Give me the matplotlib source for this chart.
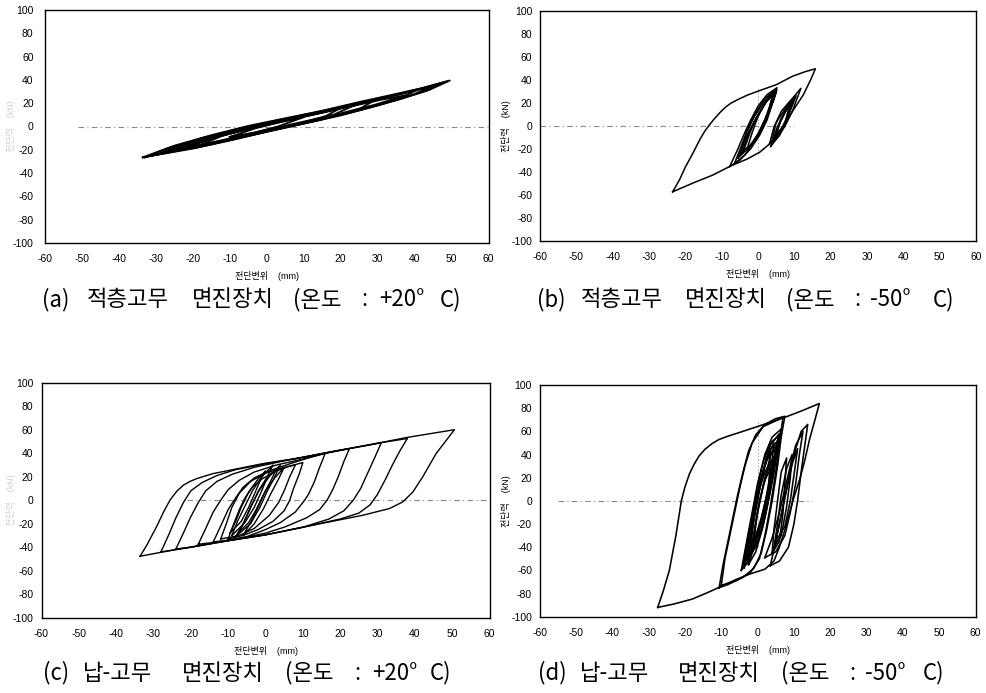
import matplotlib.pyplot as plt
import numpy as np

plt.rcParams['font.family'] = ['Liberation Sans', 'Noto Sans CJK KR']
plt.rcParams['axes.unicode_minus'] = False

# ---- data (x: mm, y: kN) ----
x_ticks = list(range(-60, 61, 10))
y_ticks = list(range(-100, 101, 20))

captions = [['(a)', '적층고무', '면진장치', '(온도', ':', '+20°', 'C)'],
            ['(b)', '적층고무', '면진장치', '(온도', ':', '-50°', 'C)'],
            ['(c)', '납-고무', '면진장치', '(온도', ':', '+20°', 'C)'],
            ['(d)', '납-고무', '면진장치', '(온도', ':', '-50°', 'C)']]
x_label = '전단변위    (mm)'
y_label = '전단력    (kN)'

# (a) laminated rubber, +20C
a1 = [(-33.5, -26.5), (-25, -21.5), (-15, -15), (-5, -7.5), (5, -0.5), (15, 6.5), (25, 14), (35, 22.5),
      (43, 30.5), (49.5, 39.5), (42, 33), (35, 28), (25, 21), (15, 13.5), (5, 7), (-5, 0.5), (-15, -7.5),
      (-25, -16.5), (-33.5, -26.5)]
a2 = [(-30, -24.5), (-20, -19), (-10, -12), (0, -4.5), (10, 2.5), (20, 9.5), (30, 18), (36, 24), (41, 32),
      (35, 27), (25, 20), (15, 12.5), (5, 6), (-5, -0.5), (-15, -8.5), (-25, -18), (-30, -24.5)]
a3 = [(-25, -20.5), (-15, -15), (-5, -8), (5, -1), (15, 6), (25, 15), (30, 24), (25, 19.5), (15, 12),
      (5, 5.5), (-5, -1.5), (-15, -10), (-25, -20.5)]
a4 = [(-18, -16), (-10, -11), (0, -3.5), (10, 3.5), (16, 9), (20, 16), (15, 12), (5, 5), (-5, -2),
      (-12, -8), (-18, -16)]
a5 = [(-10, -9), (-3, -5), (3, 0), (10, 8), (4, 4), (-3, -1.5), (-10, -9)]
a6 = [(-28, -22.5), (-18, -17.5), (-8, -10.5), (2, -3), (12, 4), (22, 11.5), (32, 20), (40, 28), (46, 36),
      (40, 30.5), (30, 23), (20, 16), (10, 9.5), (0, 3), (-10, -4.5), (-20, -12.5), (-28, -22.5)]
a7 = [(-33, -26.5), (-24, -20), (-14, -13.5), (-4, -6), (6, 0.5), (16, 7.5), (26, 15), (36, 23.5),
      (44, 31.5), (49, 39), (41, 32), (33, 26), (23, 19), (13, 12), (3, 5.5), (-7, -1.5), (-17, -9.5),
      (-27, -19), (-33, -26.5)]
a8 = [(-22, -18.5), (-12, -12.5), (-2, -5), (8, 2), (18, 10), (25, 20), (17, 13.5), (7, 6.5), (-3, -0.5),
      (-13, -8.5), (-22, -18.5)]
a9 = [(-31, -25), (-21, -18), (-11, -11), (-1, -3.5), (9, 3.5), (19, 10.5), (29, 18.5), (38, 27),
      (31, 23), (21, 16), (11, 9), (1, 2), (-9, -5.5), (-19, -13.5), (-31, -25)]
loops_a = [a1, a2, a3, a4, a5, a6, a7, a8, a9]

# (b) laminated rubber, -50C
b1 = [(-23.5, -57.5), (-18, -50), (-12.5, -43), (-7.5, -35), (-3, -29), (0.5, -23), (3.5, -15), (6, -5),
      (8, 5), (10, 15), (12.5, 27), (14.5, 40), (15.8, 49.5), (13, 47), (9.5, 43), (5, 35.6), (0.5, 30.6),
      (-3, 26.5), (-5.5, 22.8), (-7.5, 19.5), (-9, 16), (-10.3, 12), (-11.8, 6.8), (-13.3, 1),
      (-14.6, -4.5), (-16, -12), (-17.9, -23.8), (-20, -36), (-21.6, -47), (-23.5, -57.5)]
b2 = [(-7.8, -35.5), (-5, -30), (-2, -20), (0.5, -8), (2.5, 5), (4, 20), (5.2, 33), (2.5, 27), (0, 17),
      (-2, 5), (-3.5, -5), (-5.5, -20), (-7.8, -35.5)]
b3 = [(-6.5, -33), (-3.5, -25), (-1, -13), (1.5, 0), (3.5, 17), (4.8, 31), (2, 24), (-0.5, 12), (-2.5, 0),
      (-4.5, -17), (-6.5, -33)]
b4 = [(-5, -26), (-2, -17), (0.5, -5), (2.5, 10), (4.5, 30), (1.5, 20), (-1, 8), (-3, -5), (-5, -26)]
b5 = [(-3, -20), (0, -10), (2, 3), (3.5, 17), (4.2, 27), (2, 20), (0, 8), (-1.5, -5), (-3, -20)]
b6 = [(-4, -22), (-1, -14), (1, -2), (3, 12), (5, 29), (3, 24), (0.5, 12), (-1.5, 0), (-4, -22)]
b7 = [(3.2, -15.5), (5.5, -10), (7.5, 0), (9.5, 13), (11.8, 32.5), (9, 22), (6.5, 10), (4.5, 0), (3.2, -15.5)]
b8 = [(3.5, -18), (6, -8), (7.5, 3), (9, 22), (6.5, 13), (5, 3), (3.5, -18)]
b9 = [(4.5, -12), (6.5, -4), (8, 6), (9.5, 20), (7.5, 12), (6, 2), (4.5, -12)]
b10 = [(5, -8), (7, 0), (8.5, 10), (10.5, 26), (8, 15), (6.2, 4), (5, -8)]
b11 = [(-5.5, -28), (-2.5, -19), (0, -7), (2, 6), (3.2, 16), (4, 27), (1.8, 19), (-0.5, 7), (-2.5, -5),
       (-4, -15), (-5.5, -28)]
b12 = [(-4.5, -24), (-1.5, -15), (1, -3), (3, 11), (4.3, 22), (5.2, 31), (3, 25), (0.8, 13), (-1.2, 1),
       (-3, -10), (-4.5, -24)]
b13 = [(4, -14), (6, -6), (7.5, 4), (9, 16), (10, 24), (8, 17), (6.5, 7), (5.2, -2), (4, -14)]
loops_b = [b1, b2, b3, b4, b5, b6, b7, b8, b9, b10, b11, b12, b13]

# (c) lead-rubber, +20C
c1 = [(-33.6, -47.7), (-31.8, -38.3), (-29.2, -22.7), (-27.3, -10), (-25.6, 0), (-23.8, 7.5), (-22, 12.8),
      (-20.2, 16), (-18.4, 18.4), (-14, 22.7), (-9.5, 25.5), (-0.6, 31.2), (8.3, 35.5), (17.2, 41.1),
      (26.1, 46), (37.7, 53.3), (50.6, 60), (45.7, 39.7), (42.1, 19.8), (39.5, 7.1), (36.8, -1.4),
      (33.2, -7.1), (26.1, -12.8), (17.2, -18.4), (8.3, -24.1), (-0.6, -29.8), (-9.5, -34), (-18.4, -39),
      (-27.4, -44), (-33.6, -47.7)]
c2 = [(-28, -44), (-26, -30), (-24, -15), (-22, -2), (-20, 8), (-17, 15), (-13, 21), (-8, 26), (0, 31),
      (10, 36.5), (20, 42.5), (30, 48.5), (38, 52.5), (36, 42), (34, 30), (32, 17), (30, 5), (28, -4),
      (25, -11), (20, -16), (10, -23), (0, -29.5), (-10, -34.5), (-20, -40), (-28, -44)]
c3 = [(-24, -41.5), (-22, -28), (-20, -14), (-18, -2), (-16, 8), (-13, 16), (-9, 22), (-3, 28), (5, 33.5),
      (15, 39.5), (25, 45.5), (31, 48.8), (29.5, 38), (27.5, 24), (25.5, 10), (23.5, 0), (21, -9), (17, -16),
      (10, -23), (0, -29.5), (-10, -34.5), (-20, -40), (-24, -41.5)]
c4 = [(-18, -37.5), (-16, -24), (-14, -10), (-12, 0), (-10, 9), (-7, 17), (-3, 24), (3, 30), (10, 35),
      (17, 40.5), (22.5, 44), (21, 33), (19.5, 20), (18, 9), (16.5, 0), (14.5, -8), (11, -15), (5, -23),
      (0, -28), (-10, -34.5), (-18, -37.5)]
c5 = [(-14, -35.5), (-12, -22), (-10, -8), (-8, 2), (-6, 11), (-3, 19), (1, 25), (7, 31.5), (12, 36.5),
      (16, 40), (14.5, 28), (13, 15), (11.5, 5), (10.5, 0), (8, -10), (4, -19), (0, -25), (-5, -31),
      (-10, -34), (-14, -35.5)]
c6 = [(-10, -33), (-8.5, -20), (-7, -8), (-5.5, 2), (-3.5, 11), (-1, 18), (3, 25), (7, 29.5), (10, 32),
      (9, 22), (7.5, 10), (6.5, 0), (5, -9), (2, -18), (-2, -25), (-6, -30), (-10, -33)]
c7 = [(-9, -30), (-7.5, -18), (-5.5, -5), (-3.5, 8), (-1, 20), (2, 30), (0.5, 20), (-1, 8), (-3, -6),
      (-5.5, -19), (-9, -30)]
c8 = [(-8, -31), (-6, -20), (-4, -6), (-2, 7), (1, 20), (4, 30), (2.5, 20), (0.5, 8), (-1.5, -6),
      (-4, -20), (-8, -31)]
c9 = [(-7, -27), (-5.5, -17), (-3.5, -3), (-1.5, 10), (0.5, 20), (3, 27), (1.5, 17), (-0.5, 5),
      (-2.5, -8), (-4.5, -19), (-7, -27)]
c10 = [(-9.5, -28), (-8, -18), (-6.5, -6), (-4.5, 7), (-2, 18), (0, 25), (-1.5, 16), (-3, 5), (-4.5, -6),
       (-6.5, -18), (-9.5, -28)]
c11 = [(-6, -30), (-4, -19), (-2, -6), (0, 8), (2.5, 19), (5, 28), (3.5, 18), (1.5, 6), (-0.5, -7),
       (-3, -20), (-6, -30)]
c12 = [(-12, -33), (-10.5, -20), (-9, -6), (-7, 6), (-4, 16), (0, 23), (5, 28), (8, 30), (6.5, 20),
       (5, 8), (3.5, -2), (1, -13), (-3, -24), (-7, -30), (-12, -33)]
loops_c = [c1, c2, c3, c4, c5, c6, c7, c8, c9, c10, c11, c12]

# (d) lead-rubber, -50C
d1 = [(-27.5, -92), (-26, -78), (-24.3, -60), (-22.5, -30), (-21, 0), (-20, 12), (-18.8, 23),
      (-17.5, 31.5), (-16.1, 38.8), (-14.5, 44.5), (-12.5, 49.5), (-10.6, 53), (-8, 56), (-5, 59),
      (0.5, 64.7), (7, 71.5), (12, 77.5), (17, 84), (15.8, 70), (14.3, 53), (13, 35), (11.6, 18.7), (10, 3),
      (8.8, -10), (7.5, -25), (6, -40), (4.5, -52), (2, -59), (-2, -63), (-6, -68), (-10.6, -74.7),
      (-14, -79.5), (-18, -84.8), (-23, -89), (-27.5, -92)]
d2 = [(-10.6, -75), (-8, -72), (-4, -66), (-1, -58), (1, -45), (2.5, -25), (4, 0), (5.5, 30), (6.5, 55),
      (7.5, 73), (5, 71), (2, 66), (-0.5, 57), (-2.5, 43), (-4, 25), (-5.5, 5), (-7.5, -25), (-9.5, -55),
      (-10.6, -75)]
d3 = [(-10, -73), (-6, -69), (-2, -62), (0.5, -50), (2, -30), (3.5, -5), (5, 25), (6, 50), (7, 72),
      (1.5, 64), (-1.5, 50), (-3.5, 30), (-5, 10), (-7, -20), (-9, -50), (-10, -73)]
d4 = [(-4.5, -60), (-2, -50), (0, -30), (2, -5), (4, 25), (5.5, 48), (6.5, 62), (4, 55), (2, 40), (0, 15),
      (-1.5, -10), (-3, -35), (-4.5, -60)]
d5 = [(-3.5, -52), (-1.5, -42), (0.5, -22), (2.5, 3), (4, 28), (5.5, 52), (3, 42), (1, 20), (-0.5, -5),
      (-2, -28), (-3.5, -52)]
d6 = [(-3, -45), (-1, -35), (1, -15), (2.5, 5), (4, 25), (5, 45), (2.5, 35), (0.5, 15), (-1, -5),
      (-2, -25), (-3, -45)]
d7 = [(-2, -40), (0, -30), (1.5, -12), (3, 8), (4.5, 38), (2, 25), (0, 5), (-1, -15), (-2, -40)]
d8 = [(-4, -55), (-1.5, -45), (0.5, -25), (2.5, 0), (4.5, 30), (6, 58), (3.5, 48), (1.5, 25), (-0.5, 0),
      (-2.5, -28), (-4, -55)]
d9 = [(-1, -35), (1, -25), (2.5, -5), (3.5, 12), (4, 30), (2, 18), (0.5, 0), (-0.5, -18), (-1, -35)]
d10 = [(-2.5, -48), (-0.5, -40), (1.5, -20), (3, 2), (3.5, 44), (1.5, 25), (0, 0), (-1.5, -25), (-2.5, -48)]
d11 = [(3.5, -56), (6, -52), (8.5, -40), (10, -20), (11, 0), (12, 25), (13, 48), (13.8, 66), (12, 60),
       (10.5, 45), (9, 25), (7.5, 3), (6, -20), (4.5, -42), (3.5, -56)]
d12 = [(2, -49), (5, -44), (7.5, -30), (9, -10), (10.5, 15), (11.5, 40), (12.5, 60), (10.5, 48), (9, 30),
       (7.5, 10), (6, -10), (4, -32), (2, -49)]
d13 = [(4, -45), (6, -35), (7, -10), (7.5, 15), (8, 37), (6.5, 25), (5.5, 0), (4.5, -25), (4, -45)]
d14 = [(4.5, -40), (6.5, -30), (8, -5), (9, 20), (9.5, 40), (8, 28), (6.5, 5), (5.5, -20), (4.5, -40)]
d15 = [(5, -35), (7.5, -22), (9, 0), (10, 22), (11, 45), (9.5, 32), (8, 10), (6.5, -12), (5, -35)]
d16 = [(-3.8, -58), (-1.8, -47), (0.2, -27), (2.2, -2), (3.8, 24), (5, 45), (5.8, 56), (3.5, 50),
       (1.5, 33), (-0.3, 8), (-1.8, -18), (-2.8, -40), (-3.8, -58)]
d17 = [(-3, -50), (-1, -38), (1, -18), (2.5, 5), (3.8, 30), (4.5, 50), (2.5, 38), (0.8, 15), (-0.8, -10),
       (-2, -30), (-3, -50)]
d18 = [(-2.5, -55), (-0.5, -44), (1.5, -22), (3.2, 4), (4.8, 30), (6, 52), (3.8, 42), (2, 20), (0.3, -5),
       (-1.2, -30), (-2.5, -55)]
d19 = [(-1.5, -45), (0.5, -32), (2.2, -12), (3.5, 8), (4.5, 25), (5, 40), (3.2, 30), (1.5, 12), (0, -10),
       (-0.8, -28), (-1.5, -45)]
loops_d = [d1, d2, d3, d4, d5, d6, d7, d8, d9, d10, d11, d12, d13, d14, d15, d16, d17, d18, d19]

# dotted zero lines (x extents) and dotted x=0 lines (y extents)
zero_line_x = [(-51, 60), (-60, 10), (-21, 60), (-55, 15)]
center_line_y = [None, (-25, 33), None, (-40, 68)]

# ---- layout (pixel boxes of the four plot frames: left, right, top, bottom) ----
W, H = 986, 693
boxes = [(44.7, 488.7, 10, 243), (540, 976, 10.7, 240.7),
         (41.5, 489.5, 382.7, 617.7), (539.7, 975.5, 385, 616.7)]
# left edge (px) of each caption word, and caption centre line
cap_x = [[42, 87, 192, 293, 361, 379, 440],
         [537, 581, 685, 786, 854, 870, 933],
         [43, 83, 182, 285, 354, 372, 430],
         [538, 580, 678, 781, 849, 865, 923]]
cap_y = [300, 300, 673, 673]
ylab_x = [16, 511, 16, 511]
ylab_pad = [8, 5.5, 6, 5.5]
ylab_color = ['#d0d0d0', 'black', '#d0d0d0', 'black']
loop_lw = [1.3, 1.1, 1.0, 1.15]

fig = plt.figure(figsize=(W / 100, H / 100), dpi=100)

all_loops = [loops_a, loops_b, loops_c, loops_d]
for i in range(4):
    l, r, t, b = boxes[i]
    ax = fig.add_axes([l / W, 1 - b / H, (r - l) / W, (b - t) / H])

    z0, z1 = zero_line_x[i]
    ax.plot([z0, z1], [0, 0], color='#8a8a8a', lw=0.8, ls=(0, (5, 3, 1, 3)), zorder=1)
    if center_line_y[i] is not None:
        ax.plot([0, 0], list(center_line_y[i]), color='#9a9a9a', lw=0.6, ls=(0, (2, 2)), zorder=1)

    for loop in all_loops[i]:
        pts = np.array(loop)
        ax.plot(pts[:, 0], pts[:, 1], color='black', lw=loop_lw[i], zorder=2)

    ax.set_xlim(-60, 60)
    ax.set_ylim(-100, 100)
    ax.set_xticks(x_ticks)
    ax.set_yticks(y_ticks)
    ax.tick_params(axis='both', length=0, labelsize=7.5)
    ax.tick_params(axis='x', pad=8)
    ax.tick_params(axis='y', pad=ylab_pad[i])
    for s in ax.spines.values():
        s.set_linewidth(1.0)

    ax.set_xlabel(x_label, fontsize=6.5, labelpad=5)
    ax.set_ylabel(y_label, fontsize=6.5, color=ylab_color[i])
    ax.yaxis.set_label_coords((ylab_x[i] - l) / (r - l), 0.5)

    for word, wx in zip(captions[i], cap_x[i]):
        fig.text(wx / W, 1 - cap_y[i] / H, word, ha='left', va='center', fontsize=16,
                 family=['Noto Sans CJK KR', 'DejaVu Sans'])

fig.savefig('out.png', dpi=100)
